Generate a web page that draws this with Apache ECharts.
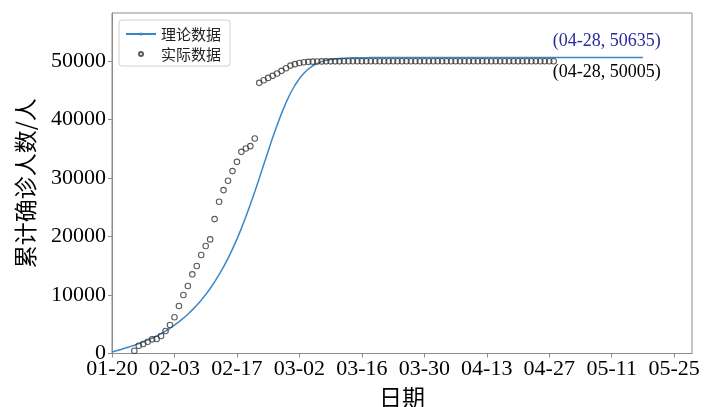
<!DOCTYPE html>
<html>
<head>
<meta charset="utf-8">
<script src="https://cdn.jsdelivr.net/npm/echarts@6/dist/echarts.min.js"></script>
<style>
  html, body { margin: 0; background: #fff; }
  #chart { width: 705px; height: 407px; }
</style>
</head>
<body>
<div id="chart"></div>
<script>
// 理论数据：从 01-20 开始，每天一个值
const theoryValues = [
  250, 480, 700, 930, 1170, 1420, 1690, 1980, 2290, 2630,
  3000, 3400, 3840, 4320, 4850, 5420, 6040, 6720, 7460, 8260,
  9130, 10080, 11120, 12250, 13480, 14820, 16280, 17860, 19570, 21410,
  23380, 25470, 27670, 29950, 32280, 34610, 36890, 39060, 41080, 42910,
  44520, 45890, 47030, 47950, 48670, 49220, 49630, 49930, 50150, 50300,
  50410, 50480, 50530, 50560, 50580, 50595, 50605, 50612, 50618, 50622,
  50625, 50627, 50628, 50629, 50630, 50630, 50631, 50631, 50632, 50632,
  50632, 50633, 50633, 50633, 50634, 50634, 50634, 50634, 50634, 50634,
  50634, 50634, 50634, 50634, 50634, 50634, 50635, 50635, 50635, 50635,
  50635, 50635, 50635, 50635, 50635, 50635, 50635, 50635, 50635, 50635,
  50635, 50635, 50635, 50635, 50635, 50635, 50635, 50635, 50635, 50635,
  50635, 50635, 50635, 50635, 50635, 50635, 50635, 50635, 50635, 50635
]

// 实际数据：从第 5 天开始
const actualStartDay = 5
const actualValues = [
  480, 1330, 1620, 2020, 2420, 2480, 2990, 3850, 4870, 6190,
  8120, 10000, 11540, 13540, 14960, 16840, 18380, 19520, 22990, 25950,
  27950, 29540, 31200, 32790, 34500, 35080, 35470, 36790, 46300, 46750,
  47150, 47500, 47900, 48350, 48800, 49250, 49500, 49700, 49820, 49890,
  49930, 49955, 49970, 49975, 49978, 49980, 49982, 49984, 49986, 49987,
  49988, 49989, 49990, 49991, 49992, 49993, 49993, 49994, 49995, 49995,
  49996, 49996, 49997, 49997, 49998, 49998, 49998, 49999, 49999, 49999,
  50000, 50000, 50000, 50000, 50001, 50001, 50001, 50001, 50002, 50002,
  50002, 50002, 50003, 50003, 50003, 50003, 50003, 50004, 50004, 50004,
  50004, 50004, 50005, 50005, 50005
]

const markDay = 99 // 04-28
const xMaxDay = 130
const xTickInterval = 14
const yMax = 58250
const yTickInterval = 10000

const serif = "'Liberation Serif', 'Times New Roman', serif"
const cjk = "'Noto Sans CJK SC', sans-serif"

const dayLabel = d => {
  const t = new Date(2020, 0, 20 + Math.round(d))
  const mm = String(t.getMonth() + 1).padStart(2, '0')
  const dd = String(t.getDate()).padStart(2, '0')
  return mm + '-' + dd
}

const theoryData = theoryValues.map((v, i) => [i, v])
const actualData = actualValues.map((v, i) => [actualStartDay + i, v])
const actualAtMark = actualValues[markDay - actualStartDay]
const theoryAtMark = theoryValues[markDay]

const chart = echarts.init(document.getElementById('chart'))

const option = {
  animation: false,
  backgroundColor: '#fff',
  grid: {
    left: 112,
    right: 13,
    top: 13,
    bottom: 53.5,
    containLabel: false,
    outerBoundsMode: 'none',
    show: true,
    borderColor: '#8c8c8c',
    borderWidth: 1
  },
  legend: {
    orient: 'vertical',
    left: 119,
    top: 20,
    padding: [5, 9, 3, 6],
    itemGap: 2,
    itemWidth: 30,
    itemHeight: 4,
    borderColor: '#d0d0d0',
    borderWidth: 1,
    borderRadius: 3,
    backgroundColor: '#fff',
    textStyle: { fontFamily: cjk, fontSize: 15, color: '#222', lineHeight: 18 },
    data: ['理论数据', '实际数据']
  },
  xAxis: {
    type: 'value',
    min: 0,
    max: xMaxDay,
    interval: xTickInterval,
    name: '日期',
    nameLocation: 'middle',
    nameGap: 32,
    nameTextStyle: { fontFamily: cjk, fontSize: 23, color: '#000' },
    axisLine: { show: true, lineStyle: { color: '#8c8c8c' } },
    axisTick: { show: true, length: 4, lineStyle: { color: '#8c8c8c' } },
    axisLabel: {
      formatter: dayLabel,
      showMaxLabel: false,
      fontFamily: serif,
      fontSize: 22,
      color: '#000',
      margin: 5
    },
    splitLine: { show: false }
  },
  yAxis: {
    type: 'value',
    min: 0,
    max: yMax,
    interval: yTickInterval,
    name: '累计确诊人数/人',
    nameLocation: 'middle',
    nameGap: 75,
    nameTextStyle: { fontFamily: cjk, fontSize: 23, color: '#000' },
    axisLine: { show: true, lineStyle: { color: '#8c8c8c' } },
    axisTick: { show: true, length: 4, lineStyle: { color: '#8c8c8c' } },
    axisLabel: {
      formatter: v => String(v),
      showMaxLabel: false,
      fontFamily: serif,
      fontSize: 22,
      color: '#000',
      margin: 6
    },
    splitLine: { show: false }
  },
  series: [
    {
      name: '理论数据',
      type: 'line',
      data: theoryData,
      symbol: 'none',
      showSymbol: false,
      lineStyle: { color: '#3a87c8', width: 1.5 },
      itemStyle: { color: '#3a87c8' },
      z: 2,
      markPoint: {
        symbol: 'circle',
        symbolSize: 0,
        silent: true,
        data: [{ coord: [markDay, theoryAtMark] }],
        label: {
          show: true,
          position: [0, 0],
          align: 'left',
          verticalAlign: 'middle',
          offset: [-1, -16],
          fontFamily: serif,
          fontSize: 18,
          color: '#2a2a9c',
          formatter: () => '(' + dayLabel(markDay) + ', ' + theoryAtMark + ')'
        }
      }
    },
    {
      name: '实际数据',
      type: 'scatter',
      data: actualData,
      symbol: 'circle',
      symbolSize: 5.5,
      itemStyle: { color: 'rgba(0,0,0,0)', borderColor: '#333', borderWidth: 1.1 },
      z: 3,
      markPoint: {
        symbol: 'circle',
        symbolSize: 0,
        silent: true,
        data: [{ coord: [markDay, actualAtMark] }],
        itemStyle: { color: 'rgba(0,0,0,0)', borderWidth: 0 },
        label: {
          show: true,
          position: [0, 0],
          align: 'left',
          verticalAlign: 'middle',
          offset: [-1, 11],
          fontFamily: serif,
          fontSize: 18,
          color: '#000',
          formatter: () => '(' + dayLabel(markDay) + ', ' + actualAtMark + ')'
        }
      }
    }
  ]
}

chart.setOption(option)
</script>
</body>
</html>
